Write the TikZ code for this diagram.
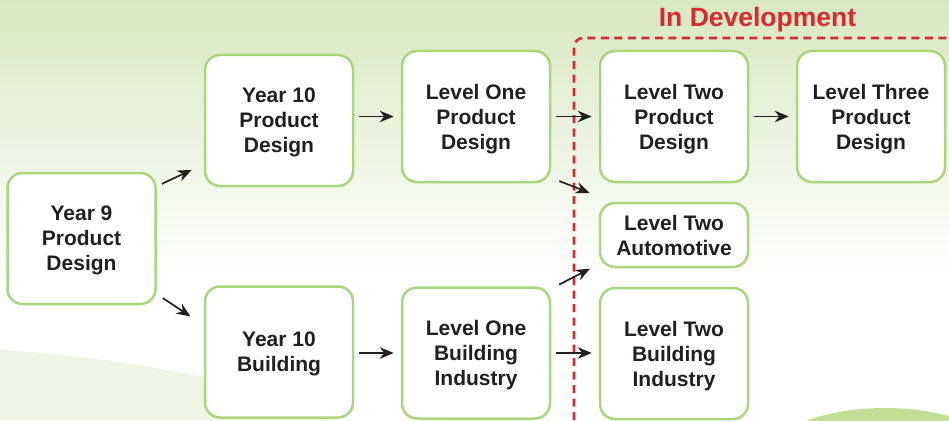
\documentclass[tikz,border=0pt]{standalone}
\usepackage{fontspec}
\setmainfont{Liberation Sans}
\usetikzlibrary{arrows.meta}
\definecolor{color_bg_top}{HTML}{D8E8C0}
\definecolor{color_bg_swoosh}{HTML}{EEF5E2}
\definecolor{color_bg_hill}{HTML}{C0DF95}
\definecolor{color_box_border}{HTML}{A9D67B}
\definecolor{color_dev_red}{HTML}{D52B30}
\definecolor{color_text}{HTML}{231F20}
\tikzset{
    coursebox/.style={draw=color_box_border, line width=2.5pt, fill=white, rounded corners=15pt,
        minimum width=148pt, minimum height=131pt, inner sep=0pt, align=center, text depth=0pt,
        text=color_text, font=\fontsize{21}{25}\selectfont\bfseries},
    shortbox/.style={coursebox, minimum height=64pt},
    pathway/.style={-{Stealth[length=14pt,width=11.5pt,inset=4.5pt]}, line width=1.7pt, color=color_text,
        shorten <=5pt, shorten >=7pt}
}
\begin{document}
\begin{tikzpicture}[x=1pt,y=-1pt]
            \useasboundingbox (0,0) rectangle (949,420);
            % background
            \shade[top color=color_bg_top, bottom color=white] (0,0) rectangle (949,275);
            \fill[white] (0,275) rectangle (949,420);
            \fill[color_bg_swoosh] (0,350) .. controls (110,357) and (250,378) .. (335,420) -- (0,420) -- cycle;
            \begin{scope}
                \clip (0,0) rectangle (949,420);
                \fill[color_bg_hill] (885,470) ellipse [x radius=130, y radius=62];
            \end{scope}
            % in development border
            \draw[color_dev_red, line width=2.6pt, dash pattern=on 8pt off 5.5pt, rounded corners=9pt]
                (574,420) -- (574,38) -- (949,38);
            \node[color_dev_red, anchor=base, font=\fontsize{26.5}{30}\selectfont\bfseries] (devlabel) at (757.5,27) {In Development};
            % courses
            \node[coursebox] (y9) at (81.5,238.5) {Year 9\\Product\\Design};
            \node[coursebox] (y10p) at (279,120.5) {Year 10\\Product\\Design};
            \node[coursebox] (y10b) at (279,352) {Year 10\\Building};
            \node[coursebox] (l1p) at (476,116.5) {Level One\\Product\\Design};
            \node[coursebox] (l1b) at (476,353) {Level One\\Building\\Industry};
            \node[coursebox] (l2p) at (674,116.5) {Level Two\\Product\\Design};
            \node[shortbox] (l2a) at (674,235) {Level Two\\Automotive};
            \node[coursebox] (l2b) at (674,353.5) {Level Two\\Building\\Industry};
            \node[coursebox] (l3p) at (871,116.5) {Level Three\\Product\\Design};
            % pathways
            \draw[pathway, shorten <=5.6pt, shorten >=13.4pt] ([yshift=-14.5pt]y9.north east) -- ([yshift=23pt]y10p.south west);
            \draw[pathway, shorten <=7.3pt, shorten >=15.9pt] ([yshift=11.2pt]y9.south east) -- ([yshift=-40pt]y10b.north west);
            \draw[pathway] (y10p.east |- l1p.west) -- (l1p.west);
            \draw[pathway] (y10b.east |- l1b.west) -- (l1b.west);
            \draw[pathway] (l1p.east) -- (l2p.west);
            \draw[pathway, shorten <=8.7pt, shorten >=9.8pt] ([yshift=5.4pt]l1p.south east) -- ([yshift=5.2pt]l2a.north west);
            \draw[pathway, shorten <=8.8pt, shorten >=9.9pt] ([yshift=-2.4pt]l1b.north east) -- ([yshift=4.1pt]l2a.south west);
            \draw[pathway] (l1b.east) -- (l1b.east -| l2b.west);
            \draw[pathway] (l2p.east) -- (l3p.west);
\end{tikzpicture}
\end{document}
